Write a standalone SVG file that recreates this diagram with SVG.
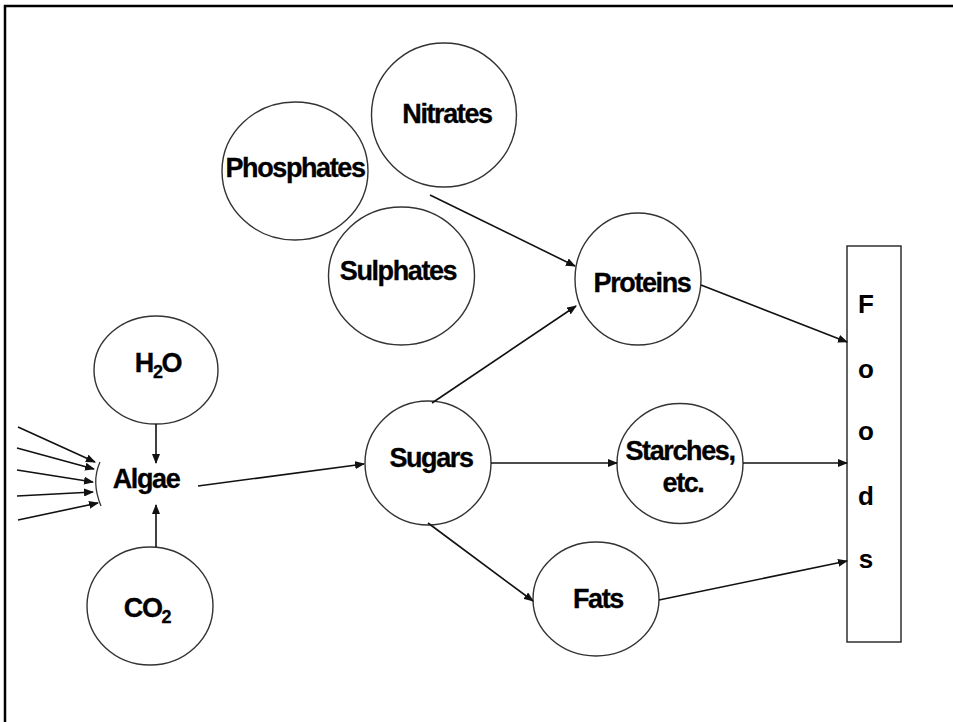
<svg xmlns="http://www.w3.org/2000/svg" width="953" height="722" viewBox="0 0 953 722">
<style>
.n{fill:#fff;stroke:#333;stroke-width:1.4}
.t{font-family:"Liberation Sans",Arial,sans-serif;font-weight:bold;font-size:27px;letter-spacing:-1.4px;fill:#000;stroke:#000;stroke-width:0.3;text-anchor:middle}
.c{stroke:#111;stroke-width:1.6;fill:none;marker-end:url(#ah)}
.f{font-family:"Liberation Sans",Arial,sans-serif;font-weight:bold;font-size:26px;fill:#000;text-anchor:middle}
</style>
<defs>
<marker id="ah" markerWidth="10" markerHeight="8" refX="9" refY="4" orient="auto" markerUnits="userSpaceOnUse">
<path d="M0,0 L10,4 L0,8 Z" fill="#111"/>
</marker>
</defs>
<rect width="953" height="722" fill="#fff"/>
<path d="M5,722 V6 H953" fill="none" stroke="#000" stroke-width="2.5"/>
<g id="nitrates"><ellipse class="n" cx="444" cy="115" rx="72.5" ry="72"/><text class="t" x="447" y="123">Nitrates</text></g>
<g id="phosphates"><ellipse class="n" cx="295" cy="171" rx="73" ry="69"/><text class="t" x="295" y="177">Phosphates</text></g>
<g id="sulphates"><ellipse class="n" cx="401.5" cy="276" rx="73" ry="69"/><text class="t" x="398" y="280">Sulphates</text></g>
<g id="proteins"><ellipse class="n" cx="638" cy="279" rx="63" ry="66"/><text class="t" x="642" y="292">Proteins</text></g>
<g id="starches"><ellipse class="n" cx="680" cy="463.5" rx="63" ry="60"/><text class="t" x="680" y="460">Starches,</text><text class="t" x="683" y="492">etc.</text></g>
<g id="fats"><ellipse class="n" cx="596" cy="599" rx="63" ry="57"/><text class="t" x="598" y="608">Fats</text></g>
<g id="sugars"><ellipse class="n" cx="428" cy="463" rx="63" ry="62"/><text class="t" x="431" y="467">Sugars</text></g>
<g id="h2o"><ellipse class="n" cx="156" cy="370" rx="62" ry="54"/><text class="t" x="158" y="372">H<tspan font-size="18" dy="6">2</tspan><tspan dy="-6">O</tspan></text></g>
<g id="co2"><ellipse class="n" cx="150" cy="606" rx="63" ry="59"/><text class="t" x="147" y="617">CO<tspan font-size="18" dy="6">2</tspan></text></g>
<g id="algae"><text class="t" x="146" y="488">Algae</text></g>
<g id="foods"><rect x="847" y="246" width="54" height="396" fill="#fff" stroke="#222" stroke-width="1.4"/>
<text class="f" x="866" y="313">F</text><text class="f" x="866" y="378">o</text><text class="f" x="866" y="440">o</text><text class="f" x="866" y="505">d</text><text class="f" x="866" y="568">s</text></g>
<g id="connectors">
<line class="c" x1="430" y1="195" x2="575" y2="266"/>
<line class="c" x1="432" y1="403" x2="576" y2="306"/>
<line class="c" x1="701" y1="285" x2="847" y2="342"/>
<line class="c" x1="198" y1="486" x2="364" y2="464"/>
<line class="c" x1="491" y1="463" x2="617" y2="463"/>
<line class="c" x1="743" y1="463" x2="847" y2="463"/>
<line class="c" x1="428" y1="523" x2="533" y2="601"/>
<line class="c" x1="659" y1="600" x2="847" y2="561"/>
<line class="c" x1="156" y1="424" x2="156" y2="463"/>
<line class="c" x1="156" y1="547" x2="156" y2="505"/>
<line class="c" x1="18" y1="427" x2="95" y2="462"/>
<line class="c" x1="17" y1="448" x2="94" y2="469"/>
<line class="c" x1="17" y1="470" x2="93" y2="482"/>
<line class="c" x1="17" y1="496" x2="93" y2="492"/>
<line class="c" x1="18" y1="520" x2="98" y2="503"/>
<path d="M100,462 Q91,482 101,506" fill="none" stroke="#333" stroke-width="1.3"/>
</g>
</svg>
